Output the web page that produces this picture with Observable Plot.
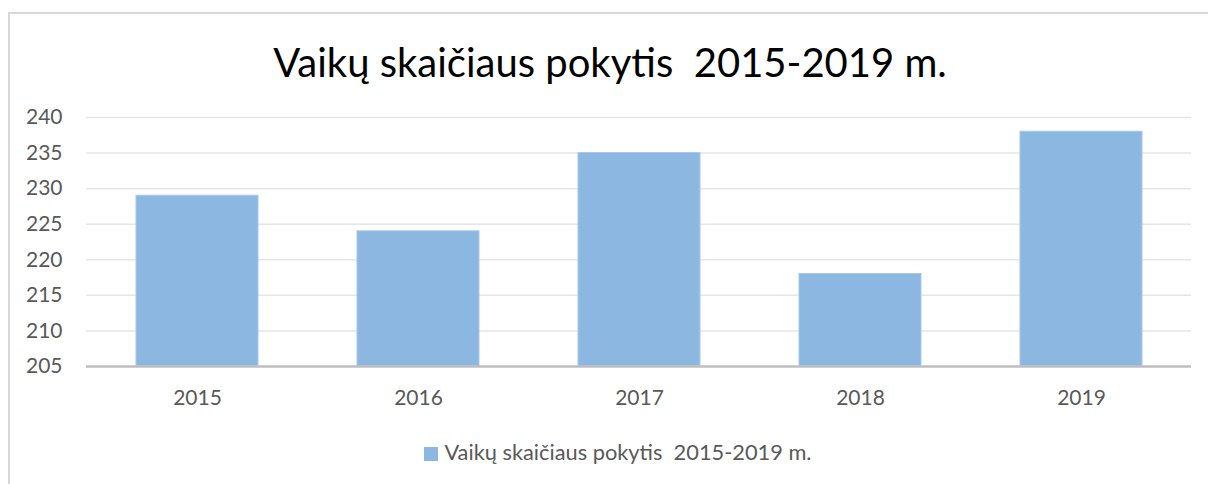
<!DOCTYPE html>
<html>
<head>
<meta charset="utf-8">
<script src="https://cdn.jsdelivr.net/npm/d3@7"></script>
<script src="https://cdn.jsdelivr.net/npm/@observablehq/plot@0.6"></script>
<style>
  html, body { margin: 0; padding: 0; background: #fff; width: 1208px; height: 484px; overflow: hidden; }
  #frame { position: absolute; left: 8px; top: 12px; width: 1240px; height: 520px; border: 2px solid #d9d9d9; box-sizing: border-box; }
  #title { position: absolute; left: 0; top: 37px; width: 1220px; text-align: center; font-family: Lato, "Open Sans", sans-serif; font-size: 40px; color: #000; white-space: pre; line-height: 50px; }
  #chart { position: absolute; left: 0; top: 100px; }
  #legend { position: absolute; left: 0; top: 437px; width: 1236px; text-align: center; font-family: Lato, "Open Sans", sans-serif; font-size: 21.8px; color: #595959; white-space: pre; line-height: 30px; }
  #legend .sw { display: inline-block; width: 14px; height: 14px; background: #8cb7e1; margin-right: 6px; vertical-align: -1px; }
</style>
</head>
<body>
<div id="frame"></div>
<div id="title"></div>
<div id="chart"></div>
<div id="legend"></div>
<script>
const titleText = "Vaikų skaičiaus pokytis  2015-2019 m.";
const seriesName = "Vaikų skaičiaus pokytis  2015-2019 m.";
const years = ["2015", "2016", "2017", "2018", "2019"];
const counts = [229, 224, 235, 218, 238];
const yTicks = [205, 210, 215, 220, 225, 230, 235, 240];

document.getElementById("title").textContent = titleText;
const leg = document.getElementById("legend");
const sw = document.createElement("span"); sw.className = "sw";
leg.appendChild(sw);
leg.appendChild(document.createTextNode(seriesName));

const data = years.map((y, i) => ({year: y, value: counts[i]}));

const chart = Plot.plot({
  width: 1208,
  height: 320,
  marginLeft: 86,
  marginRight: 17,
  marginTop: 17,
  marginBottom: 54,
  style: { fontFamily: 'Lato, "Open Sans", sans-serif', fontSize: "21px", color: "#595959", background: "transparent", overflow: "visible" },
  x: { domain: years, paddingInner: 0.448, paddingOuter: 0.224, label: null },
  y: { domain: [205, 240], label: null },
  marks: [
    Plot.gridY(yTicks, { stroke: "#e6e6e6", strokeOpacity: 1, strokeWidth: 1.5 }),
    Plot.barY(data, { x: "year", y1: 205, y2: "value", fill: "#8cb7e1", stroke: "#a6c8ea", strokeWidth: 1 }),
    Plot.ruleY([205], { stroke: "#bfbfbf", strokeWidth: 2.5 }),
    Plot.axisY(yTicks, { tickSize: 0, tickPadding: 24, fill: "#595959", fontSize: 21 }),
    Plot.axisX({ tickSize: 0, tickPadding: 24, fill: "#595959", fontSize: 21 })
  ]
});
document.getElementById("chart").appendChild(chart);
</script>
</body>
</html>
